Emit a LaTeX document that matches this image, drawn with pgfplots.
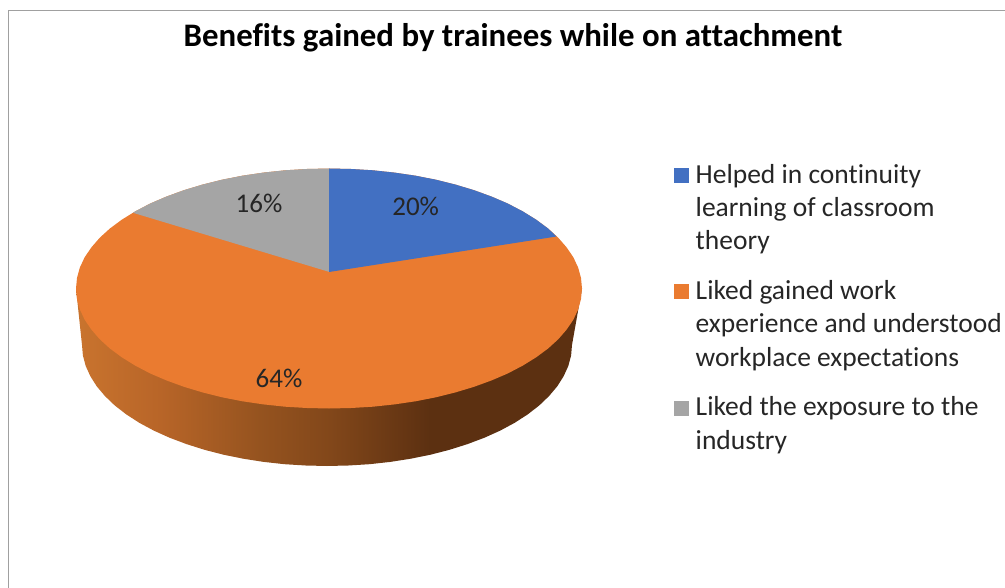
\documentclass[border=0pt]{standalone}
\usepackage{fontspec}
\setmainfont[Ligatures=NoCommon]{Carlito}
\usepackage{pgfplots}
\pgfplotsset{compat=1.18}
\definecolor{pblue}{HTML}{4270C2}
\definecolor{porange}{HTML}{EA7B30}
\definecolor{pgray}{HTML}{A5A5A5}
\definecolor{ltext}{HTML}{262626}
\definecolor{frameline}{HTML}{A0A0A0}
\definecolor{w0}{HTML}{C9742E}
\definecolor{w1}{HTML}{B86528}
\definecolor{w2}{HTML}{95531F}
\definecolor{w3}{HTML}{82471A}
\definecolor{w4}{HTML}{5C3011}
\pgfdeclarehorizontalshading{wallshade}{100bp}{color(0bp)=(w0); color(25bp)=(w0); color(33.3bp)=(w1); color(43.2bp)=(w2); color(50.1bp)=(w3); color(60bp)=(w4); color(100bp)=(w4)}
\tikzset{lg/.style={anchor=base west, inner sep=0pt, font=\fontsize{27.5}{30}\selectfont, text=ltext},
         vl/.style={anchor=base, inner sep=0pt, font=\fontsize{27}{28}\selectfont, text=ltext}}
\begin{document}
\begin{tikzpicture}
\begin{axis}[
  scale only axis, width=1005pt, height=588pt,
  xmin=0, xmax=1005, ymin=0, ymax=588, y dir=reverse,
  hide axis, clip=true,
]
% frame
\addplot[frameline, line width=1.7pt, no marks] coordinates {(8.5,588) (8.5,10.5) (1005,10.5)};
% side wall
\addplot[draw=none, shade, shading=wallshade] coordinates {
(76,288.5) (82,345) (82.9,355.5) (85.7,366) (90.4,376.3) (96.8,386.4) (105,396.1) (114.8,405.5) (126.3,414.4) (139.3,422.8) (153.8,430.6) (169.5,437.7) (186.5,444.1) (204.5,449.8) (223.5,454.7) (243.2,458.7) (263.6,461.9) (284.5,464.2) (305.6,465.5) (327,466)
(348.4,465.5) (369.5,464.2) (390.4,461.9) (410.8,458.7) (430.5,454.7) (449.5,449.8) (467.5,444.1) (484.5,437.7) (500.2,430.6) (514.7,422.8) (527.7,414.4) (539.2,405.5) (549,396.1) (557.2,386.4) (563.6,376.3) (568.3,366) (571.1,355.5) (572,345) (582,288.5)
} --cycle;
% top: orange
\addplot[draw=none, fill=porange] coordinates {
(329,168.5) (351.1,169) (372.9,170.3) (394.5,172.6) (415.5,175.7) (435.9,179.7) (455.5,184.6) (474.1,190.2) (491.6,196.6) (507.9,203.6) (522.8,211.4) (536.2,219.7) (548.1,228.5) (558.3,237.8) (566.7,247.5) (573.4,257.4) (578.2,267.7) (581,278) (582,288.5)
(581,299) (578.2,309.3) (573.4,319.6) (566.7,329.5) (558.3,339.2) (548.1,348.5) (536.2,357.3) (522.8,365.6) (507.9,373.4) (491.6,380.4) (474.1,386.8) (455.5,392.4) (435.9,397.3) (415.5,401.3) (394.5,404.4) (372.9,406.7) (351.1,408) (329,408.5)
(306.9,408) (285.1,406.7) (263.5,404.4) (242.5,401.3) (222.1,397.3) (202.5,392.4) (183.9,386.8) (166.4,380.4) (150.1,373.4) (135.2,365.6) (121.8,357.3) (109.9,348.5) (99.7,339.2) (91.3,329.5) (84.6,319.6) (79.8,309.3) (77,299) (76,288.5)
(77,278) (79.8,267.7) (84.6,257.4) (91.3,247.5) (99.7,237.8) (109.9,228.5) (121.8,219.7) (135.2,211.4) (150.1,203.6) (166.4,196.6) (183.9,190.2) (202.5,184.6) (222.1,179.7) (242.5,175.7) (263.5,172.6) (285.1,170.3) (306.9,169)
} --cycle;
% top: gray
\addplot[draw=none, fill=pgray] coordinates {
(329.5,272) (133,212.8) (135.2,211.4) (150.1,203.6) (166.4,196.6) (183.9,190.2) (202.5,184.6) (222.1,179.7) (242.5,175.7) (263.5,172.6) (285.1,170.3) (306.9,169) (329.5,168.5)
} --cycle;
% top: blue
\addplot[draw=none, fill=pblue] coordinates {
(329,272) (329,168.5) (351.1,169) (372.9,170.3) (394.5,172.6) (415.5,175.7) (435.9,179.7) (455.5,184.6) (474.1,190.2) (491.6,196.6) (507.9,203.6) (522.8,211.4) (536.2,219.7) (548.1,228.5) (556.5,236.5)
} --cycle;
% legend keys
\addplot[draw=none, fill=pblue] coordinates {(674,168) (689,168) (689,183) (674,183)} --cycle;
\addplot[draw=none, fill=porange] coordinates {(674,284) (689,284) (689,299) (674,299)} --cycle;
\addplot[draw=none, fill=pgray] coordinates {(674,401) (689,401) (689,416) (674,416)} --cycle;
% title
\node[anchor=base, inner sep=0pt, font=\fontsize{32.85}{34}\selectfont\bfseries, text=black] at (axis cs:513,46.5) {Benefits gained by trainees while on attachment};
% value labels
\node[vl] at (axis cs:259,212.5) {16\%};
\node[vl] at (axis cs:415.7,215.5) {20\%};
\node[vl] at (axis cs:279,387.5) {64\%};
% legend text
\node[lg] at (axis cs:695.5,183.5) {Helped in continuity};
\node[lg] at (axis cs:695.5,217) {learning of classroom};
\node[lg] at (axis cs:695.5,250) {theory};
\node[lg] at (axis cs:695.5,299.5) {Liked gained work};
\node[lg] at (axis cs:695.5,333) {experience and understood};
\node[lg] at (axis cs:695.5,366.5) {workplace expectations};
\node[lg] at (axis cs:695.5,415.5) {Liked the exposure to the};
\node[lg] at (axis cs:695.5,449.5) {industry};
\end{axis}
\path[use as bounding box] (0,0) rectangle (1005pt,588pt);
\end{tikzpicture}
\end{document}
